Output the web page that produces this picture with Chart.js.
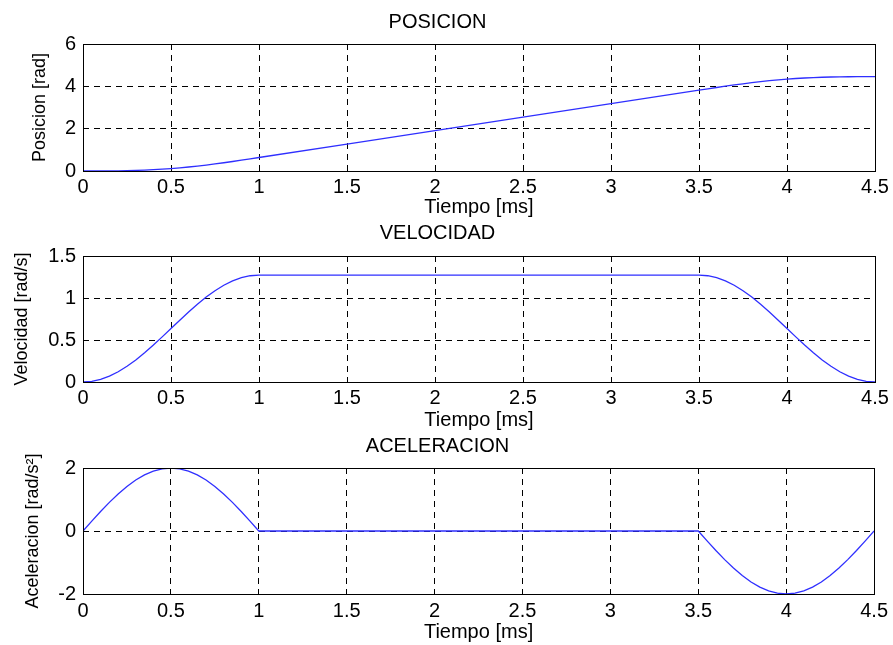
<!DOCTYPE html>
<html>
<head>
<meta charset="utf-8">
<script src="https://cdn.jsdelivr.net/npm/chart.js@4/dist/chart.umd.min.js"></script>
<style>
  body { margin: 0; background: #fff; width: 893px; height: 645px; overflow: hidden; }
  canvas { position: absolute; left: 0; }
</style>
</head>
<body>
<canvas id="chartPos" width="893" height="220" style="top:0px"></canvas>
<canvas id="chartVel" width="893" height="213" style="top:220px"></canvas>
<canvas id="chartAcel" width="893" height="212" style="top:433px"></canvas>
<script>
var tiempo = [0, 0.05, 0.1, 0.15, 0.2, 0.25, 0.3, 0.35, 0.4, 0.45, 0.5,
    0.55, 0.6, 0.65, 0.7, 0.75, 0.8, 0.85, 0.9, 0.95, 1.0,
    1.5, 2.0, 2.5, 3.0,
    3.5, 3.55, 3.6, 3.65, 3.7, 3.75, 3.8, 3.85, 3.9, 3.95, 4.0,
    4.05, 4.1, 4.15, 4.2, 4.25, 4.3, 4.35, 4.4, 4.45, 4.5];

var posicion = [0, 0.0001, 0.001, 0.0035, 0.008, 0.016, 0.027, 0.042, 0.062, 0.086, 0.116,
    0.150, 0.189, 0.233, 0.282, 0.334, 0.390, 0.449, 0.510, 0.573, 0.637,
    1.273, 1.910, 2.546, 3.183,
    3.819, 3.883, 3.945, 4.006, 4.066, 4.121, 4.174, 4.222, 4.266, 4.306, 4.340,
    4.369, 4.394, 4.413, 4.428, 4.440, 4.448, 4.452, 4.455, 4.455, 4.456];

var velocidad = [0, 0.008, 0.031, 0.069, 0.122, 0.187, 0.262, 0.348, 0.440, 0.537, 0.637,
    0.736, 0.833, 0.926, 1.011, 1.087, 1.152, 1.204, 1.242, 1.265, 1.273,
    1.273, 1.273, 1.273, 1.273,
    1.273, 1.265, 1.242, 1.204, 1.152, 1.087, 1.011, 0.926, 0.833, 0.736, 0.637,
    0.537, 0.440, 0.348, 0.262, 0.187, 0.122, 0.069, 0.031, 0.008, 0];

var aceleracion = [0, 0.313, 0.618, 0.908, 1.176, 1.414, 1.618, 1.782, 1.902, 1.975, 2.0,
    1.975, 1.902, 1.782, 1.618, 1.414, 1.176, 0.908, 0.618, 0.313, 0,
    0, 0, 0, 0,
    0, -0.313, -0.618, -0.908, -1.176, -1.414, -1.618, -1.782, -1.902, -1.975, -2.0,
    -1.975, -1.902, -1.782, -1.618, -1.414, -1.176, -0.908, -0.618, -0.313, 0];

var xTicks = [0, 0.5, 1, 1.5, 2, 2.5, 3, 3.5, 4, 4.5];

var fuente = "'Liberation Sans', Arial, sans-serif";

// marco negro alrededor del area de la grafica
var marco = {
    id: "marco",
    afterDraw: function (chart) {
        var a = chart.chartArea;
        var ctx = chart.ctx;
        ctx.save();
        ctx.strokeStyle = "#000";
        ctx.lineWidth = 1;
        ctx.strokeRect(Math.round(a.left) + 0.5, Math.round(a.top) + 0.5,
            Math.round(a.right - a.left), Math.round(a.bottom - a.top));
        ctx.restore();
    }
};

function puntos(ys) {
    return tiempo.map(function (t, i) { return { x: t, y: ys[i] }; });
}

function etiqueta(v) {
    return String(Math.round(v * 10) / 10);
}

function crear(id, titulo, etiquetaY, ys, yMin, yMax, yStep, op) {
    var ctx = document.getElementById(id).getContext("2d");
    return new Chart(ctx, {
        type: "line",
        data: {
            datasets: [{
                data: puntos(ys),
                borderColor: "#2f2fff",
                borderWidth: 1.3,
                pointRadius: 0,
                fill: false,
                tension: 0,
            }],
        },
        options: {
            responsive: false,
            animation: false,
            layout: { padding: { left: 0, right: 18, top: 0, bottom: 0 } },
            plugins: {
                legend: { display: false },
                tooltip: { enabled: false },
                title: {
                    display: true,
                    text: titulo,
                    color: "#000",
                    font: { family: fuente, size: 20, weight: "normal" },
                    padding: { top: op.titTop, bottom: op.titBottom },
                },
            },
            scales: {
                x: {
                    type: "linear",
                    min: 0,
                    max: 4.5,
                    afterBuildTicks: function (s) {
                        s.ticks = xTicks.map(function (v) { return { value: v }; });
                    },
                    afterFit: function (s) { s.height = op.xHeight; },
                    ticks: {
                        color: "#000",
                        padding: op.xPad,
                        maxRotation: 0,
                        autoSkip: false,
                        callback: etiqueta,
                        font: { family: fuente, size: 20 },
                    },
                    grid: { color: "#000", lineWidth: 1, drawTicks: false },
                    border: { display: false, dash: [6, 5] },
                    title: {
                        display: true,
                        text: "Tiempo [ms]",
                        color: "#000",
                        font: { family: fuente, size: 20 },
                        padding: { top: 0, bottom: 1 },
                    },
                },
                y: {
                    min: yMin,
                    max: yMax,
                    afterFit: function (s) { s.width = 83; },
                    ticks: {
                        stepSize: yStep,
                        color: "#000",
                        padding: 7,
                        callback: etiqueta,
                        font: { family: fuente, size: 20 },
                    },
                    grid: { color: "#000", lineWidth: 1, drawTicks: false },
                    border: { display: false, dash: [6, 5] },
                    title: {
                        display: true,
                        text: etiquetaY,
                        color: "#000",
                        font: { family: fuente, size: 18 },
                        padding: { top: op.yTitTop, bottom: 0 },
                    },
                },
            },
        },
        plugins: [marco],
    });
}

var chart1 = crear("chartPos", "POSICION", "Posicion [rad]", posicion, 0, 6, 2,
    { titTop: 10, titBottom: 10, xHeight: 49, xPad: 4, yTitTop: 29 });
var chart2 = crear("chartVel", "VELOCIDAD", "Velocidad [rad/s]", velocidad, 0, 1.5, 0.5,
    { titTop: 1, titBottom: 11, xHeight: 51, xPad: 4, yTitTop: 11 });
var chart3 = crear("chartAcel", "ACELERACION", "Aceleracion [rad/s²]", aceleracion, -2, 2, 2,
    { titTop: 1, titBottom: 10, xHeight: 51, xPad: 5, yTitTop: 22 });
</script>
</body>
</html>
